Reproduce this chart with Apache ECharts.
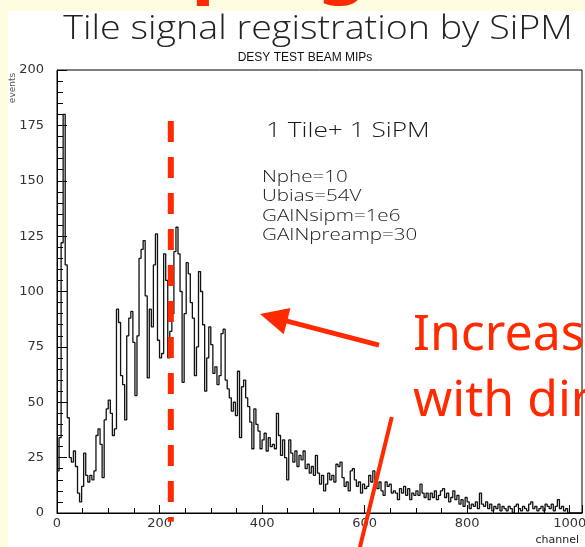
<!DOCTYPE html>
<html>
<head>
<meta charset="utf-8">
<script src="https://cdn.jsdelivr.net/npm/echarts@6/dist/echarts.min.js"></script>
<style>
  html, body { margin: 0; padding: 0; background: #FFFDE1; }
  #chart { width: 585px; height: 547px; }
</style>
</head>
<body>
<div id="chart"></div>
<script>
// Pulse-height spectrum: counts per 4-channel bin, channels 0..1023
const binWidth = 4;
const counts = [
  19, 34, 122, 180, 112, 43, 25, 23, 28, 21, 9, 5, 12, 27, 17, 14,
  17, 15, 19, 35, 38, 31, 16, 42, 47, 51, 45, 35, 38, 92, 86, 62,
  58, 42, 80, 88, 91, 77, 53, 80, 115, 119, 123, 98, 61, 92, 84, 112,
  126, 78, 70, 72, 117, 105, 70, 82, 90, 118, 129, 117, 100, 59, 90, 113,
  108, 95, 88, 62, 75, 109, 100, 85, 55, 70, 84, 76, 63, 66, 58, 62,
  81, 83, 60, 56, 52, 46, 50, 44, 64, 34, 57, 60, 52, 48, 41, 29,
  47, 40, 37, 29, 33, 36, 28, 34, 30, 31, 29, 45, 35, 26, 33, 25,
  15, 33, 27, 23, 28, 21, 26, 24, 28, 20, 22, 18, 21, 17, 26, 18,
  13, 17, 10, 13, 18, 15, 17, 14, 22, 21, 23, 16, 12, 14, 10, 19,
  20, 15, 12, 14, 9, 13, 11, 12, 17, 14, 19, 15, 11, 14, 10, 8,
  14, 12, 13, 9, 10, 9, 6, 11, 9, 12, 8, 11, 6, 9, 8, 10,
  8, 13, 9, 7, 9, 6, 9, 7, 10, 6, 8, 10, 11, 7, 9, 5,
  7, 10, 6, 8, 4, 6, 3, 7, 5, 2, 4, 3, 5, 2, 9, 4,
  3, 5, 2, 4, 1, 3, 2, 4, 1, 3, 2, 1, 3, 2, 0, 3,
  4, 2, 1, 3, 2, 1, 4, 5, 2, 3, 1, 2, 3, 1, 4, 3,
  2, 4, 1, 3, 6, 2, 3, 1, 2, 0, 0, 0, 0, 0, 0, 0
];

// Axis ranges and tick steps
const channelRange = [0, 1024];
const channelStep = 200;
const countRange = [0, 200];
const countStep = 25;

// Text on the figure
const slideHeadingTail = 'ping';
const titleText = 'Tile signal registration by SiPM';
const subtitleText = 'DESY TEST BEAM MIPs';
const headerText = '1 Tile+ 1 SiPM';
const settingLines = ['Nphe=10', 'Ubias=54V', 'GAINsipm=1e6', 'GAINpreamp=30'];
const calloutLines = ['Increase', 'with dir'];

// Marked peak channel and the two pointer strokes, in [channel, counts]
const peakChannel = 222;
const peakLine = [[peakChannel, 177], [peakChannel, -4]];
const arrowLine = [[628, 75.8], [396, 89.8]];   // tail, tip
const leaderLine = [[653, 43.3], [585, -21]];

const RED = '#FF2A00';
const INK = '#1a1a1a';
const LIGHT = '"Open Sans", "DejaVu Sans", sans-serif';

const histData = counts.map((c, i) => [i * binWidth, c]);
histData.push([counts.length * binWidth, counts[counts.length - 1]]);

const chart = echarts.init(document.getElementById('chart'), null, { renderer: 'canvas' });

const axisLabelStyle = {
  color: '#333', fontFamily: 'DejaVu Sans', fontSize: 13,
  formatter: v => String(v)
};

chart.setOption({
  backgroundColor: '#FFFDE1',
  animation: false,
  grid: {
    left: 57, right: 3, top: 70, bottom: 34,
    show: true, borderColor: '#000', borderWidth: 1,
    containLabel: false, outerBoundsMode: 'none'
  },
  xAxis: {
    type: 'value', min: channelRange[0], max: channelRange[1], interval: channelStep,
    axisLine: { show: true, onZero: false, lineStyle: { color: '#000', width: 1 } },
    axisTick: { show: true, inside: true, length: 8, lineStyle: { color: '#000' } },
    minorTick: { show: true, splitNumber: 4, length: 5, lineStyle: { color: '#000' } },
    splitLine: { show: false },
    axisLabel: Object.assign({ showMaxLabel: false, margin: 4 }, axisLabelStyle)
  },
  yAxis: {
    type: 'value', min: countRange[0], max: countRange[1], interval: countStep,
    axisLine: { show: true, onZero: false, lineStyle: { color: '#000', width: 1 } },
    axisTick: { show: true, inside: true, length: 10, lineStyle: { color: '#000' } },
    minorTick: { show: true, splitNumber: 5, length: 6, lineStyle: { color: '#000' } },
    splitLine: { show: false },
    axisLabel: Object.assign({ margin: 13 }, axisLabelStyle)
  },
  series: [{
    type: 'line',
    step: 'end',
    data: histData,
    symbol: 'none',
    clip: false,
    lineStyle: { color: '#111', width: 1.3 }
  }]
});

// ---- overlay: texts and red pointer strokes ----
const toPx = p => chart.convertToPixel({ gridIndex: 0 }, p);

const textEl = (text, x, y, font, fill, align, extra) => Object.assign({
  type: 'text', x, y, silent: true, z: 50,
  style: { text, font, fill, textAlign: align || 'left', textVerticalAlign: 'middle' }
}, extra || {});

const graphics = [
  { type: 'rect', shape: { x: 8, y: 11, width: 600, height: 560 }, style: { fill: '#ffffff' }, z: -100, silent: true },
  // tail of the slide heading, cut off by the top edge
  textEl(slideHeadingTail, 191, -36, '700 80px "Noto Sans", sans-serif', RED, 'left', { z: 60 }),
  textEl(titleText, 318, 30, '300 33px ' + LIGHT, '#222', 'center', { scaleX: 1.14 }),
  textEl(subtitleText, 305, 58, '12px "Liberation Sans Narrow", "Liberation Sans", sans-serif', '#111', 'center'),
  textEl(headerText, 266, 131, '300 21px ' + LIGHT, INK, 'left', { scaleX: 1.25 }),
  textEl('events', 13, 88, '9px "DejaVu Sans", sans-serif', '#555', 'center', { rotation: Math.PI / 2 }),
  textEl('channel', 579, 540, '11px "DejaVu Sans", sans-serif', '#222', 'right')
];
settingLines.forEach((s, i) => {
  graphics.push(textEl(s, 262, 177 + i * 19.5, '300 17px ' + LIGHT, INK, 'left', { scaleX: 1.21 }));
});
calloutLines.forEach((s, i) => {
  graphics.push(textEl(s, 413, 336 + i * 66, '50px "Noto Sans", "Open Sans", sans-serif', RED, 'left', { z: 60 }));
});

// dashed marker at the peak channel
const pk0 = toPx(peakLine[0]), pk1 = toPx(peakLine[1]);
graphics.push({
  type: 'line', silent: true, z: 40,
  shape: { x1: pk0[0], y1: pk0[1], x2: pk1[0], y2: pk1[1] },
  style: { stroke: RED, lineWidth: 6, lineDash: [21, 15], lineCap: 'butt' }
});

// arrow pointing at the spectrum
const tail = toPx(arrowLine[0]), tip = toPx(arrowLine[1]);
const dx = tip[0] - tail[0], dy = tip[1] - tail[1];
const len = Math.hypot(dx, dy);
const ux = dx / len, uy = dy / len, nx = -uy, ny = ux;
const headLen = 28, headHalf = 13.5;
const bx = tip[0] - ux * headLen, by = tip[1] - uy * headLen;
graphics.push({
  type: 'line', silent: true, z: 40,
  shape: { x1: tail[0], y1: tail[1], x2: bx + ux * 3, y2: by + uy * 3 },
  style: { stroke: RED, lineWidth: 5, lineCap: 'butt' }
});
graphics.push({
  type: 'polygon', silent: true, z: 40,
  shape: { points: [tip, [bx + nx * headHalf, by + ny * headHalf], [bx - nx * headHalf, by - ny * headHalf]] },
  style: { fill: RED }
});

// leader stroke running down past the axis
const ld0 = toPx(leaderLine[0]), ld1 = toPx(leaderLine[1]);
graphics.push({
  type: 'line', silent: true, z: 40,
  shape: { x1: ld0[0], y1: ld0[1], x2: ld1[0], y2: ld1[1] },
  style: { stroke: RED, lineWidth: 4, lineCap: 'butt' }
});

chart.setOption({ graphic: graphics });
</script>
</body>
</html>
